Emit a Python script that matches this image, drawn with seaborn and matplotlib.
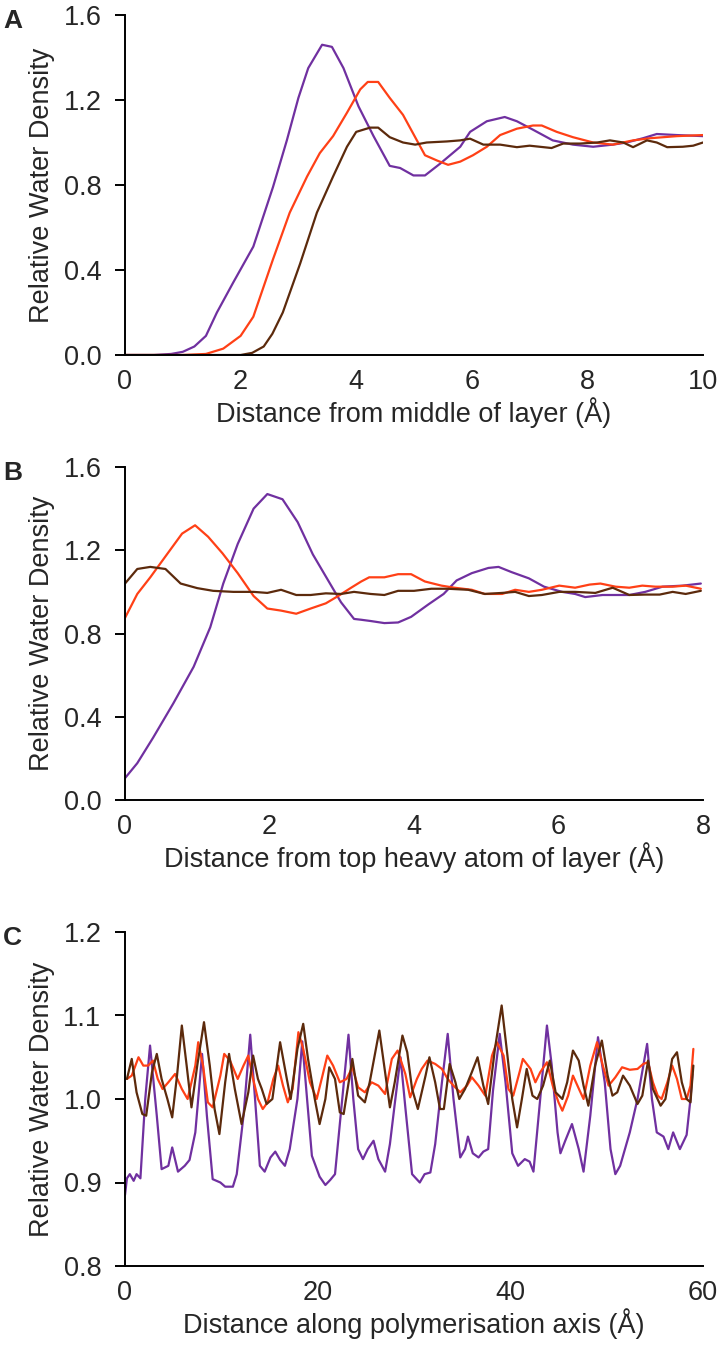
import numpy as np
import matplotlib
matplotlib.use("Agg")
import matplotlib.pyplot as plt
import seaborn as sns

# ---- colours for the three water profiles
PURPLE = "#7030A0"
ORANGE = "#FF4016"
BROWN = "#5C2A0C"

# ---- panel A: distance from middle of layer
a_purple_x = [0, 0.5, 0.8, 1.0, 1.2, 1.4, 1.59, 1.87, 2.22, 2.56, 2.80, 3.0, 3.17, 3.41, 3.58,
              3.78, 4.04, 4.3, 4.58, 4.76, 4.99, 5.19, 5.45, 5.8, 5.97, 6.26, 6.57, 6.78, 7.06,
              7.4, 7.75, 8.1, 8.44, 8.68, 8.96, 9.2, 9.55, 10.0]
a_purple_y = [0, 0, 0.005, 0.015, 0.04, 0.09, 0.2, 0.34, 0.51, 0.79, 1.01, 1.21, 1.35, 1.46, 1.45,
              1.35, 1.17, 1.03, 0.89, 0.88, 0.845, 0.845, 0.90, 0.98, 1.05, 1.10, 1.12, 1.10, 1.06,
              1.01, 0.99, 0.98, 0.99, 1.0, 1.02, 1.04, 1.035, 1.03]
a_orange_x = [0, 1.0, 1.4, 1.7, 2.0, 2.22, 2.56, 2.85, 3.15, 3.37, 3.6, 3.84, 4.07, 4.2, 4.38,
              4.58, 4.81, 4.98, 5.19, 5.4, 5.59, 5.8, 6.02, 6.26, 6.49, 6.78, 7.06, 7.21, 7.47,
              7.75, 8.1, 8.44, 8.79, 9.08, 9.55, 10.0]
a_orange_y = [0, 0, 0.005, 0.03, 0.09, 0.18, 0.45, 0.67, 0.84, 0.95, 1.03, 1.14, 1.25, 1.285, 1.285,
              1.21, 1.13, 1.045, 0.94, 0.915, 0.895, 0.91, 0.94, 0.98, 1.035, 1.065, 1.08, 1.08, 1.05,
              1.025, 1.0, 0.99, 1.01, 1.02, 1.03, 1.035]
a_brown_x = [0, 2.0, 2.2, 2.4, 2.55, 2.73, 3.03, 3.32, 3.6, 3.84, 4.0, 4.24, 4.38, 4.58, 4.81,
             5.02, 5.22, 5.57, 5.8, 5.97, 6.2, 6.49, 6.78, 7.0, 7.38, 7.58, 7.87, 8.17, 8.39,
             8.62, 8.79, 9.03, 9.2, 9.38, 9.65, 9.83, 10.0]
a_brown_y = [0, 0, 0.01, 0.04, 0.1, 0.2, 0.43, 0.67, 0.84, 0.98, 1.05, 1.07, 1.07, 1.025, 1.0,
             0.99, 1.0, 1.005, 1.01, 1.018, 0.99, 0.99, 0.978, 0.985, 0.974, 0.995, 0.995, 1.0, 1.01,
             1.0, 0.978, 1.01, 1.0, 0.978, 0.98, 0.985, 1.0]

# ---- panel B: distance from top heavy atom of layer
b_purple_x = [0.0, 0.17, 0.39, 0.67, 0.95, 1.18, 1.36, 1.56, 1.78, 1.97, 2.18, 2.39, 2.6, 2.81,
              2.99, 3.17, 3.27, 3.4, 3.59, 3.78, 3.96, 4.2, 4.41, 4.59, 4.8, 5.03, 5.17, 5.35,
              5.59, 5.8, 6.05, 6.23, 6.37, 6.61, 6.98, 7.2, 7.44, 7.72, 7.97]
b_purple_y = [0.105, 0.177, 0.30, 0.465, 0.64, 0.83, 1.04, 1.23, 1.40, 1.47, 1.445, 1.335, 1.18, 1.056,
              0.95, 0.87, 0.866, 0.86, 0.85, 0.853, 0.88, 0.94, 0.99, 1.055, 1.09, 1.115, 1.12, 1.095,
              1.065, 1.025, 1.0, 0.99, 0.975, 0.985, 0.985, 1.0, 1.025, 1.03, 1.04]
b_orange_x = [0.0, 0.17, 0.35, 0.58, 0.79, 0.97, 1.15, 1.35, 1.56, 1.78, 1.97, 2.16, 2.37, 2.57,
              2.78, 2.95, 3.13, 3.27, 3.38, 3.59, 3.78, 3.96, 4.15, 4.38, 4.56, 4.8, 4.98, 5.22,
              5.4, 5.59, 5.77, 6.01, 6.23, 6.43, 6.58, 6.79, 6.98, 7.16, 7.34, 7.58, 7.76, 7.97]
b_orange_y = [0.875, 0.99, 1.07, 1.18, 1.28, 1.32, 1.265, 1.185, 1.09, 0.98, 0.92, 0.91, 0.895, 0.92,
              0.945, 0.98, 1.02, 1.05, 1.07, 1.07, 1.085, 1.085, 1.05, 1.03, 1.02, 1.01, 0.99, 0.99,
              1.01, 1.0, 1.01, 1.03, 1.02, 1.035, 1.04, 1.025, 1.02, 1.03, 1.025, 1.025, 1.03, 1.015]
b_brown_x = [0.0, 0.17, 0.35, 0.56, 0.77, 1.0, 1.22, 1.5, 1.78, 1.97, 2.16, 2.37, 2.57, 2.78,
             2.99, 3.17, 3.4, 3.59, 3.78, 4.0, 4.24, 4.47, 4.75, 4.98, 5.22, 5.4, 5.59, 5.77,
             6.01, 6.23, 6.51, 6.75, 6.98, 7.2, 7.4, 7.58, 7.76, 7.97]
b_brown_y = [1.04, 1.11, 1.12, 1.11, 1.04, 1.018, 1.005, 1.0, 1.0, 0.995, 1.01, 0.985, 0.985, 0.993,
             0.99, 1.0, 0.99, 0.985, 1.005, 1.005, 1.015, 1.015, 1.01, 0.99, 0.995, 1.0, 0.98, 0.985,
             1.0, 1.0, 0.995, 1.02, 0.985, 0.987, 0.987, 1.0, 0.99, 1.005]

# ---- panel C: distance along polymerisation axis, (x, density) pairs
c_purple = [(0.0, 0.885), (0.2, 0.905), (0.5, 0.91), (0.9, 0.902), (1.2, 0.91), (1.6, 0.905),
            (2.1, 1.0), (2.6, 1.064), (3.3, 0.98), (3.8, 0.916), (4.5, 0.92), (4.9, 0.942),
            (5.5, 0.913), (6.2, 0.92), (6.7, 0.927), (7.3, 0.96), (8.0, 1.054), (8.5, 0.98),
            (9.1, 0.904), (9.9, 0.90), (10.4, 0.895), (11.2, 0.895), (11.6, 0.91), (12.3, 0.98),
            (13.0, 1.077), (13.5, 1.0), (14.0, 0.92), (14.5, 0.913), (15.1, 0.93), (15.6, 0.937),
            (16.1, 0.927), (16.6, 0.92), (17.1, 0.94), (17.9, 1.0), (18.4, 1.069), (18.9, 1.0),
            (19.4, 0.932), (20.2, 0.907), (20.8, 0.897), (21.3, 0.903), (21.8, 0.91), (22.5, 0.994),
            (23.2, 1.077), (23.7, 1.0), (24.2, 0.94), (24.7, 0.928), (25.2, 0.94), (25.8, 0.95),
            (26.3, 0.928), (27.0, 0.913), (27.5, 0.946), (28.0, 0.994), (28.6, 1.05), (29.1, 0.99),
            (29.8, 0.91), (30.6, 0.90), (31.1, 0.91), (31.7, 0.912), (32.2, 0.946), (32.9, 1.02),
            (33.5, 1.078), (34.1, 1.0), (34.8, 0.93), (35.3, 0.94), (35.6, 0.955), (36.1, 0.935),
            (36.7, 0.93), (37.2, 0.937), (37.7, 0.94), (38.2, 1.01), (38.9, 1.078), (39.5, 1.02),
            (40.2, 0.935), (40.8, 0.92), (41.5, 0.928), (42.0, 0.925), (42.4, 0.913), (43.1, 1.0),
            (43.8, 1.088), (44.3, 1.04), (44.9, 0.96), (45.2, 0.935), (45.7, 0.95), (46.4, 0.97),
            (47.1, 0.94), (47.6, 0.913), (48.3, 0.98), (49.1, 1.074), (49.8, 1.02), (50.4, 0.94),
            (50.9, 0.91), (51.4, 0.92), (52.4, 0.96), (53.2, 1.0), (54.2, 1.066), (54.7, 1.0),
            (55.2, 0.96), (55.9, 0.955), (56.4, 0.94), (56.9, 0.96), (57.6, 0.94), (58.3, 0.957),
            (58.7, 1.0), (58.9, 1.03)]
c_orange = [(0.2, 1.024), (0.7, 1.028), (1.4, 1.05), (1.9, 1.04), (2.4, 1.04), (2.9, 1.046),
            (3.4, 1.024), (3.9, 1.012), (4.5, 1.02), (5.2, 1.03), (5.9, 1.012), (6.5, 1.0),
            (7.3, 1.04), (7.6, 1.068), (8.1, 1.04), (8.6, 0.996), (9.1, 0.99), (9.9, 1.028),
            (10.3, 1.054), (10.9, 1.046), (11.7, 1.024), (12.3, 1.04), (12.8, 1.052), (13.3, 1.024),
            (13.8, 1.0), (14.3, 0.988), (14.8, 0.996), (15.4, 1.024), (15.9, 1.04), (16.4, 1.016),
            (16.9, 0.996), (17.4, 1.012), (18.0, 1.08), (18.5, 1.06), (19.2, 1.02), (19.9, 1.0),
            (20.5, 1.028), (21.0, 1.052), (21.6, 1.04), (22.3, 1.02), (23.0, 1.024), (23.6, 1.038),
            (24.2, 1.014), (24.9, 1.008), (25.6, 1.02), (26.3, 1.016), (27.0, 1.006), (27.7, 1.048),
            (28.3, 1.058), (29.1, 1.03), (29.6, 1.002), (30.3, 1.024), (30.8, 1.036), (31.4, 1.046),
            (32.2, 1.042), (32.9, 1.036), (33.5, 1.024), (34.1, 1.016), (34.8, 1.008), (35.5, 1.016),
            (36.0, 1.026), (36.7, 1.016), (37.4, 1.004), (38.1, 1.052), (38.6, 1.068), (39.3, 1.052),
            (39.8, 1.012), (40.3, 1.004), (41.0, 1.034), (41.3, 1.048), (42.1, 1.036), (42.6, 1.02),
            (43.1, 1.032), (43.8, 1.044), (44.4, 1.016), (45.0, 0.996), (45.4, 0.986), (46.0, 1.004),
            (46.5, 1.028), (47.2, 1.01), (47.6, 1.0), (48.3, 1.04), (49.0, 1.068), (49.6, 1.04),
            (50.2, 1.016), (50.9, 1.026), (51.6, 1.038), (52.4, 1.035), (53.2, 1.036), (53.8, 1.042),
            (54.3, 1.044), (54.8, 1.02), (55.3, 1.004), (55.7, 1.0), (56.3, 1.02), (56.8, 1.04),
            (57.3, 1.024), (57.8, 1.0), (58.3, 1.0), (58.7, 1.016), (59.0, 1.06)]
c_brown = [(0.2, 1.024), (0.7, 1.048), (1.2, 1.008), (1.8, 0.982), (2.2, 0.98), (2.8, 1.032),
           (3.3, 1.054), (3.8, 1.024), (4.4, 1.0), (4.9, 0.978), (5.4, 1.028), (5.9, 1.088),
           (6.4, 1.04), (6.9, 0.99), (7.5, 1.04), (8.2, 1.092), (8.8, 1.04), (9.3, 0.988),
           (9.8, 0.958), (10.4, 1.02), (10.8, 1.054), (11.4, 1.012), (12.1, 0.97), (12.8, 1.008),
           (13.3, 1.052), (13.8, 1.024), (14.2, 1.012), (14.7, 0.994), (15.3, 1.0), (16.1, 1.068),
           (16.8, 1.024), (17.2, 1.0), (17.9, 1.06), (18.5, 1.09), (19.0, 1.048), (19.7, 1.0),
           (20.2, 0.97), (20.8, 1.0), (21.2, 1.038), (21.8, 1.024), (22.3, 0.984), (22.7, 0.982),
           (23.6, 1.048), (24.2, 1.004), (24.9, 0.996), (25.4, 1.02), (26.4, 1.082), (27.0, 1.032),
           (27.5, 0.99), (28.0, 1.02), (28.8, 1.076), (29.3, 1.056), (29.8, 1.012), (30.4, 0.988),
           (31.2, 1.028), (31.6, 1.05), (32.2, 1.02), (32.7, 0.988), (33.1, 0.988), (33.7, 1.042),
           (34.3, 1.02), (34.7, 1.0), (35.3, 1.012), (36.0, 1.032), (36.6, 1.05), (37.2, 1.016),
           (37.7, 0.994), (38.4, 1.06), (39.1, 1.112), (39.7, 1.052), (40.2, 1.0), (40.7, 0.966),
           (41.2, 1.0), (41.7, 1.036), (42.3, 1.004), (42.8, 1.0), (43.4, 1.016), (44.1, 1.046),
           (44.7, 1.008), (45.4, 1.0), (45.9, 1.02), (46.5, 1.058), (47.1, 1.046), (47.6, 1.016),
           (48.1, 0.992), (48.8, 1.04), (49.5, 1.07), (50.1, 1.028), (50.6, 1.004), (51.1, 1.008),
           (51.7, 1.028), (52.4, 1.016), (53.2, 0.994), (53.7, 1.004), (54.3, 1.046), (54.8, 1.012),
           (55.6, 0.992), (56.1, 1.0), (56.8, 1.048), (57.3, 1.056), (57.8, 1.02), (58.3, 1.0),
           (58.7, 0.996), (59.0, 1.04)]

# ---- axis text / ticks
y_label = "Relative Water Density"
x_labels = ["Distance from middle of layer (\u00c5)",
            "Distance from top heavy atom of layer (\u00c5)",
            "Distance along polymerisation axis (\u00c5)"]
panel_letters = ["A", "B", "C"]
x_ticks = [[0, 2, 4, 6, 8, 10], [0, 2, 4, 6, 8], [0, 20, 40, 60]]
y_ticks = [[0.0, 0.4, 0.8, 1.2, 1.6], [0.0, 0.4, 0.8, 1.2, 1.6], [0.8, 0.9, 1.0, 1.1, 1.2]]

sns.set_style("white")
plt.rcParams["font.family"] = ["Liberation Sans", "DejaVu Sans"]

FS = 19.5
LW = 1.6

fig = plt.figure(figsize=(7.19, 13.49), dpi=100)
W, H = 719.0, 1349.0
# axes boxes in pixels: (left, top, right, bottom)
boxes = [(125, 15, 703, 355), (125, 467, 703, 800), (125, 932, 703, 1266)]
axes = [fig.add_axes([l / W, 1 - b / H, (r - l) / W, (b - t) / H]) for l, t, r, b in boxes]

panels = [
    [(a_purple_x, a_purple_y), (a_orange_x, a_orange_y), (a_brown_x, a_brown_y)],
    [(b_purple_x, b_purple_y), (b_orange_x, b_orange_y), (b_brown_x, b_brown_y)],
    [tuple(zip(*c_purple)), tuple(zip(*c_orange)), tuple(zip(*c_brown))],
]
colours = [PURPLE, ORANGE, BROWN]

for i, ax in enumerate(axes):
    for (xs, ys), col in zip(panels[i], colours):
        sns.lineplot(x=list(xs), y=list(ys), ax=ax, color=col, linewidth=LW,
                     estimator=None, sort=False)
    ax.set_xlim(x_ticks[i][0], x_ticks[i][-1])
    ax.set_ylim(y_ticks[i][0], y_ticks[i][-1])
    ax.set_xticks(x_ticks[i])
    ax.set_yticks(y_ticks[i])
    ax.set_xticklabels([str(v) for v in x_ticks[i]], fontsize=FS)
    ax.set_yticklabels([f"{v:.1f}" for v in y_ticks[i]], fontsize=FS)
    sns.despine(ax=ax)
    for side in ["left", "bottom"]:
        ax.spines[side].set_color("black")
        ax.spines[side].set_linewidth(1.4)
    ax.tick_params(axis="y", direction="out", length=7, width=1.4, color="black",
                   pad=10, left=True)
    ax.tick_params(axis="x", length=0, pad=10)
    ax.set_ylabel(y_label, fontsize=FS, labelpad=6)
    ax.set_xlabel(x_labels[i], fontsize=FS, labelpad=2)
    ax.grid(False)

for letter, (l, t, r, b) in zip(panel_letters, boxes):
    fig.text(3 / W, 1 - (t - 6) / H, letter, fontsize=19, fontweight="bold",
             ha="left", va="top")

fig.savefig("out.png", dpi=100)
